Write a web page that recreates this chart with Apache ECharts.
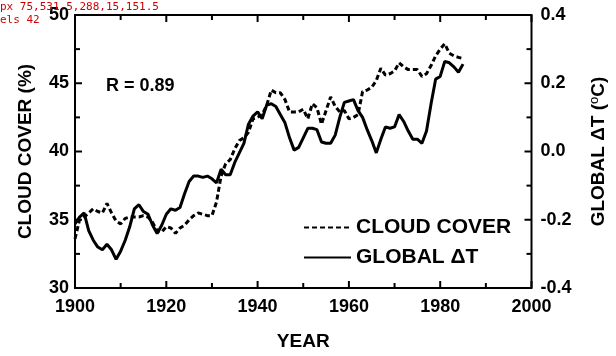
<!DOCTYPE html>
<html>
<head>
<meta charset="utf-8">
<script src="https://cdn.jsdelivr.net/npm/echarts@6/dist/echarts.min.js"></script>
<style>
html,body{margin:0;padding:0;background:#fff;}
#chart{width:616px;height:356px;}
#err{position:absolute;left:0;top:0;width:616px;font:11px monospace;color:#c00;white-space:pre-wrap;}
</style>
</head>
<body>
<div id="chart"></div>
<div id="err"></div>
<script>
const errBox = document.getElementById('err');
window.onerror = function(msg, src, line, col, e) { errBox.textContent += 'ONERR: ' + msg + ' @' + line + ':' + col + '\n' + (e && e.stack ? e.stack.slice(0, 400) : '') + '\n'; };
const years = [1900,1901,1902,1903,1904,1905,1906,1907,1908,1909,
1910,1911,1912,1913,1914,1915,1916,1917,1918,1919,
1920,1921,1922,1923,1924,1925,1926,1927,1928,1929,
1930,1931,1932,1933,1934,1935,1936,1937,1938,1939,
1940,1941,1942,1943,1944,1945,1946,1947,1948,1949,
1950,1951,1952,1953,1954,1955,1956,1957,1958,1959,
1960,1961,1962,1963,1964,1965,1966,1967,1968,1969,
1970,1971,1972,1973,1974,1975,1976,1977,1978,1979,
1980,1981,1982,1983,1984,1985];

const cloudCover = [33.6,35.0,35.2,35.5,35.8,35.6,35.5,36.2,35.5,34.9,
34.7,35.1,35.2,35.2,35.2,35.3,35.2,34.8,34.2,34.1,
34.5,34.4,34.0,34.4,34.6,35.0,35.3,35.5,35.4,35.3,
35.3,36.3,38.2,39.1,39.4,40.2,40.8,41.0,41.4,42.4,
42.5,42.7,43.4,44.5,44.3,44.3,43.8,42.9,42.9,42.9,
43.1,42.4,43.5,43.2,42.0,43.0,44.0,43.3,42.9,43.0,
42.4,42.5,42.7,44.4,44.5,44.7,45.2,46.1,45.6,45.7,
45.9,46.5,46.2,46.0,46.0,46.0,45.5,45.7,46.3,47.0,
47.5,47.9,47.2,47.0,46.9,46.8];

const globalDT = [-0.212,-0.192,-0.180,-0.232,-0.260,-0.280,-0.288,-0.272,-0.288,-0.316,
-0.292,-0.260,-0.220,-0.168,-0.156,-0.176,-0.184,-0.216,-0.240,-0.216,
-0.184,-0.168,-0.172,-0.164,-0.124,-0.088,-0.072,-0.072,-0.076,-0.072,
-0.080,-0.092,-0.052,-0.068,-0.068,-0.032,-0.004,0.024,0.080,0.104,
0.116,0.096,0.136,0.140,0.132,0.108,0.084,0.040,0.004,0.012,
0.040,0.068,0.068,0.064,0.028,0.024,0.024,0.048,0.100,0.144,
0.148,0.152,0.120,0.100,0.064,0.032,-0.004,0.036,0.072,0.068,
0.072,0.108,0.088,0.060,0.036,0.036,0.024,0.060,0.140,0.212,
0.220,0.264,0.260,0.248,0.232,0.256];

const seriesNames = ['CLOUD COVER', 'GLOBAL \u0394T'];
const xTicks = [1900, 1920, 1940, 1960, 1980, 2000];
const xMinorTicks = [1910, 1930, 1950, 1970, 1990];
const leftTicks = [30, 35, 40, 45, 50];
const leftMinorTicks = [32.5, 37.5, 42.5, 47.5];
const rightTicks = [-0.4, -0.2, 0.0, 0.2, 0.4];
const rightMinorTicks = [-0.3, -0.1, 0.1, 0.3];
const annotation = 'R = 0.89';

const FONT = '"Liberation Sans", Arial, Helvetica, sans-serif';
const X_MIN = xTicks[0], X_MAX = xTicks[xTicks.length - 1];
const L_MIN = leftTicks[0], L_MAX = leftTicks[leftTicks.length - 1];
const MAJOR = 7, MINOR = 5;

const chart = echarts.init(document.getElementById('chart'), null, {renderer: 'canvas'});

function axisParts() {
  return {
    axisLine: {show: false, onZero: false},
    axisTick: {show: false},
    minorTick: {show: false},
    splitLine: {show: false},
    minorSplitLine: {show: false}
  };
}
const labelStyle = {color: '#000', fontFamily: FONT, fontWeight: 'bold', fontSize: 18};
const annotationGraphic = {
  type: 'text', left: 106, top: 77,
  style: {text: annotation, fill: '#000', font: 'bold 18px ' + FONT}
};

try {
chart.setOption({
  backgroundColor: '#fff',
  animation: false,
  grid: {left: 75, right: 80, top: 15, bottom: 63, containLabel: false},
  legend: {
    orient: 'vertical',
    left: 298,
    top: 212,
    itemWidth: 47,
    itemHeight: 21,
    itemGap: 9,
    itemStyle: {opacity: 0},
    textStyle: {color: '#000', fontFamily: FONT, fontWeight: 'bold', fontSize: 21},
    data: seriesNames
  },
  xAxis: [Object.assign(axisParts(), {
    type: 'value', position: 'bottom', min: X_MIN, max: X_MAX, interval: 20,
    axisLabel: Object.assign({}, labelStyle, {margin: 10, formatter: v => String(v)}),
    name: 'YEAR', nameLocation: 'middle', nameGap: 44,
    nameTextStyle: {color: '#000', fontFamily: FONT, fontWeight: 'bold', fontSize: 19}
  })],
  yAxis: [Object.assign(axisParts(), {
    type: 'value', position: 'left', min: L_MIN, max: L_MAX, interval: 5,
    axisLabel: Object.assign({}, labelStyle, {margin: 6}),
    name: 'CLOUD COVER (%)', nameLocation: 'middle', nameGap: 40, nameRotate: 90,
    nameTextStyle: {color: '#000', fontFamily: FONT, fontWeight: 'bold', fontSize: 19}
  }), Object.assign(axisParts(), {
    type: 'value', position: 'right', min: rightTicks[0], max: rightTicks[rightTicks.length-1], interval: 0.2,
    axisLabel: Object.assign({}, labelStyle, {margin: 9, formatter: v => v.toFixed(1)}),
    name: 'GLOBAL \u0394T ({sup|o}C)', nameLocation: 'middle', nameGap: 56, nameRotate: 90,
    nameTextStyle: {color: '#000', fontFamily: FONT, fontWeight: 'bold', fontSize: 19,
      rich: {sup: {fontFamily: FONT, fontWeight: 'normal', fontSize: 13, padding: [0,0,9,0], color: '#000'}}}
  })],
  graphic: [annotationGraphic],
  series: [{
    name: seriesNames[0], type: 'line', xAxisIndex: 0, yAxisIndex: 0,
    data: years.map((y, i) => [y, cloudCover[i]]),
    symbol: 'none', showSymbol: false,
    lineStyle: {color: '#000', width: 3, type: [5, 3]},
    itemStyle: {color: '#000'}
  }, {
    name: seriesNames[1], type: 'line', xAxisIndex: 0, yAxisIndex: 1,
    data: years.map((y, i) => [y, globalDT[i]]),
    symbol: 'none', showSymbol: false,
    lineStyle: {color: '#000', width: 3, type: 'solid'},
    itemStyle: {color: '#000'}
  }]
});
} catch (e) { errBox.textContent += 'SET1: ' + e.message + '\n' + (e.stack||'').slice(0,300) + '\n'; }

try {
const px = v => chart.convertToPixel({xAxisIndex: 0}, v);
const pyL = v => chart.convertToPixel({yAxisIndex: 0}, v);
const pyR = v => chart.convertToPixel({yAxisIndex: 1}, v);
const x0 = px(X_MIN), x1 = px(X_MAX), yB = pyL(L_MIN), yT = pyL(L_MAX);
errBox.textContent += 'px ' + [x0, x1, yB, yT, pyR(0)].join(',') + '\n';
const els = [annotationGraphic, {
  type: 'rect', z: 100, silent: true,
  shape: {x: x0, y: yT, width: x1 - x0, height: yB - yT},
  style: {fill: 'none', stroke: '#000', lineWidth: 2}
}];
function tick(xa, ya, xb, yb) {
  els.push({type: 'line', z: 100, silent: true, shape: {x1: xa, y1: ya, x2: xb, y2: yb}, style: {stroke: '#000', lineWidth: 2}});
}
xTicks.forEach(v => { const x = px(v); tick(x, yB, x, yB - MAJOR); tick(x, yT, x, yT + MAJOR); });
xMinorTicks.forEach(v => { const x = px(v); tick(x, yB, x, yB - MINOR); tick(x, yT, x, yT + MINOR); });
leftTicks.forEach(v => { const y = pyL(v); tick(x0, y, x0 + MAJOR, y); });
leftMinorTicks.forEach(v => { const y = pyL(v); tick(x0, y, x0 + MINOR, y); });
rightTicks.forEach(v => { const y = pyR(v); tick(x1, y, x1 - MAJOR, y); });
rightMinorTicks.forEach(v => { const y = pyR(v); tick(x1, y, x1 - MINOR, y); });
chart.setOption({graphic: els});
errBox.textContent += 'els ' + els.length + '\n';
} catch (e) { errBox.textContent += 'SET2: ' + e.message + '\n' + (e.stack||'').slice(0,300) + '\n'; }
</script>
</body>
</html>
